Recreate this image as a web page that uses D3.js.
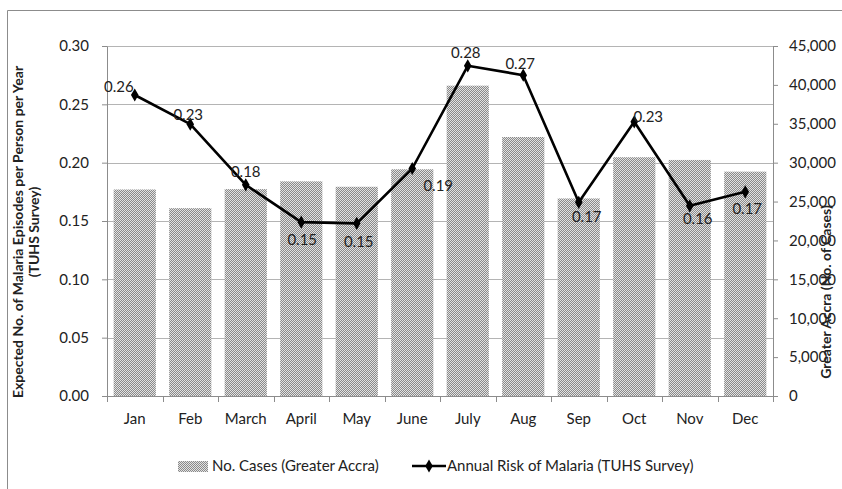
<!DOCTYPE html>
<html>
<head>
<meta charset="utf-8">
<script src="https://cdn.jsdelivr.net/npm/d3@7"></script>
<style>
  body { margin: 0; background: #fff; }
  svg text { font-family: Lato, "Liberation Sans", sans-serif; fill: #222; }
</style>
</head>
<body>
<svg width="842" height="489"></svg>
<script>
// data
var months = ["Jan", "Feb", "March", "April", "May", "June", "July", "Aug", "Sep", "Oct", "Nov", "Dec"];
var cases = [26550, 24150, 26600, 27600, 26900, 29150, 39900, 33300, 25400, 30700, 30350, 28850];
var risk = [0.258, 0.233, 0.181, 0.149, 0.148, 0.195, 0.283, 0.275, 0.166, 0.235, 0.163, 0.175];
var riskLabels = ["0.26", "0.23", "0.18", "0.15", "0.15", "0.19", "0.28", "0.27", "0.17", "0.23", "0.16", "0.17"];
var leftTicks = [0, 0.05, 0.10, 0.15, 0.20, 0.25, 0.30];
var rightTicks = [0, 5000, 10000, 15000, 20000, 25000, 30000, 35000, 40000, 45000];

// where each data label sits relative to its point (dx, dy)
var labelOffset = [[-16, -8], [-2, -9], [0, -13], [1, 18], [2, 18], [26, 17], [-2, -13], [-3, -11], [8, 14], [14, -5], [8, 13], [2, 17]];

var svg = d3.select("svg"),
    margin = {top: 46, right: 69, bottom: 93, left: 107},
    width = +svg.attr("width") - margin.left - margin.right,
    height = +svg.attr("height") - margin.top - margin.bottom;

// pattern for the bars
var pat = svg.append("defs").append("pattern")
    .attr("id", "dots")
    .attr("patternUnits", "userSpaceOnUse")
    .attr("width", 2).attr("height", 2);
pat.append("rect").attr("width", 2).attr("height", 2).attr("fill", "#e2e2e2");
pat.append("rect").attr("width", 1).attr("height", 1).attr("fill", "#8a8a8a");
pat.append("rect").attr("x", 1).attr("y", 1).attr("width", 1).attr("height", 1).attr("fill", "#8a8a8a");

// chart frame
svg.append("path")
    .attr("d", "M7.5,489V10.5H842")
    .attr("fill", "none")
    .attr("stroke", "#8c8c8c");

var x = d3.scaleBand().domain(months).range([0, width]).paddingInner(0.24).paddingOuter(0.12),
    yL = d3.scaleLinear().domain([0, 0.30]).range([height, 0]),
    yR = d3.scaleLinear().domain([0, 45000]).range([height, 0]);

var g = svg.append("g")
    .attr("transform", "translate(" + margin.left + "," + margin.top + ")");

// gridlines
g.append("g")
    .selectAll("line")
    .data(leftTicks.slice(1))
    .enter().append("line")
    .attr("x1", 0).attr("x2", width)
    .attr("y1", function(d) { return Math.round(yL(d)) + 0.5; })
    .attr("y2", function(d) { return Math.round(yL(d)) + 0.5; })
    .attr("stroke", "#b4b4b4");

// bars
g.append("g")
    .selectAll("rect")
    .data(cases)
    .enter().append("rect")
    .attr("x", function(d, i) { return x(months[i]); })
    .attr("y", function(d) { return yR(d); })
    .attr("width", x.bandwidth())
    .attr("height", function(d) { return height - yR(d); })
    .attr("fill", "url(#dots)");

// axes
function styleAxis(sel) {
  sel.selectAll("path, line").attr("stroke", "#8c8c8c");
  sel.selectAll("text").style("font-size", "15px").attr("fill", "#222");
}

g.append("g")
    .call(d3.axisLeft(yL).tickValues(leftTicks).tickSize(5).tickSizeOuter(0).tickPadding(13).tickFormat(d3.format(".2f")))
    .call(styleAxis);

g.append("g")
    .attr("transform", "translate(" + width + ",0)")
    .call(d3.axisRight(yR).tickValues(rightTicks).tickSize(5).tickSizeOuter(0).tickPadding(11).tickFormat(d3.format(",")))
    .call(styleAxis);

var xAxis = g.append("g")
    .attr("transform", "translate(0," + height + ")")
    .call(d3.axisBottom(x).tickSize(0).tickPadding(17))
    .call(styleAxis);
xAxis.select(".domain").remove();
g.append("line")
    .attr("x1", 0).attr("x2", width)
    .attr("y1", height + 0.5).attr("y2", height + 0.5)
    .attr("stroke", "#8c8c8c");
// tick marks between categories
g.append("g")
    .selectAll("line")
    .data(d3.range(months.length + 1))
    .enter().append("line")
    .attr("x1", function(d) { return Math.round(d * width / months.length) + 0.5; })
    .attr("x2", function(d) { return Math.round(d * width / months.length) + 0.5; })
    .attr("y1", height).attr("y2", height + 6)
    .attr("stroke", "#8c8c8c");

// risk line
var line = d3.line()
    .x(function(d, i) { return x(months[i]) + x.bandwidth() / 2; })
    .y(function(d) { return yL(d); });

g.append("path")
    .datum(risk)
    .attr("d", line)
    .attr("fill", "none")
    .attr("stroke", "#000")
    .attr("stroke-width", 2.6)
    .attr("stroke-linejoin", "round");

var diamond = d3.symbol().type(d3.symbolDiamond).size(50);

g.append("g")
    .selectAll("path")
    .data(risk)
    .enter().append("path")
    .attr("d", diamond)
    .attr("transform", function(d, i) { return "translate(" + (x(months[i]) + x.bandwidth() / 2) + "," + yL(d) + ")"; })
    .attr("fill", "#000");

g.append("g")
    .selectAll("text")
    .data(risk)
    .enter().append("text")
    .attr("x", function(d, i) { return x(months[i]) + x.bandwidth() / 2 + labelOffset[i][0]; })
    .attr("y", function(d, i) { return yL(d) + labelOffset[i][1]; })
    .attr("text-anchor", "middle")
    .attr("dy", "0.35em")
    .style("font-size", "15px")
    .text(function(d, i) { return riskLabels[i]; });

// axis titles
var leftTitle = svg.append("text")
    .attr("transform", "translate(18,232) rotate(-90)")
    .attr("text-anchor", "middle")
    .style("font-size", "14px")
    .style("font-weight", "bold");
leftTitle.append("tspan").attr("x", 0).attr("dy", "0.35em").text("Expected No. of Malaria  Episodes per Person per Year");
leftTitle.append("tspan").attr("x", 0).attr("dy", "1.15em").text("(TUHS Survey)");

svg.append("text")
    .attr("transform", "translate(826,292) rotate(-90)")
    .attr("text-anchor", "middle")
    .attr("dy", "0.35em")
    .style("font-size", "14px")
    .style("font-weight", "bold")
    .text("Greater Accra (No. of Cases)");

// legend
var legend = svg.append("g").attr("transform", "translate(0,466)");
legend.append("rect")
    .attr("x", 178).attr("y", -5)
    .attr("width", 30).attr("height", 11)
    .attr("fill", "url(#dots)");
legend.append("text")
    .attr("x", 212).attr("y", 0).attr("dy", "0.35em")
    .style("font-size", "15px")
    .text("No. Cases (Greater Accra)");
legend.append("line")
    .attr("x1", 412).attr("x2", 446)
    .attr("y1", 0).attr("y2", 0)
    .attr("stroke", "#000").attr("stroke-width", 2.6);
legend.append("path")
    .attr("d", diamond)
    .attr("transform", "translate(429,0)")
    .attr("fill", "#000");
legend.append("text")
    .attr("x", 447).attr("y", 0).attr("dy", "0.35em")
    .style("font-size", "15px")
    .text("Annual Risk of Malaria (TUHS Survey)");
</script>
</body>
</html>
